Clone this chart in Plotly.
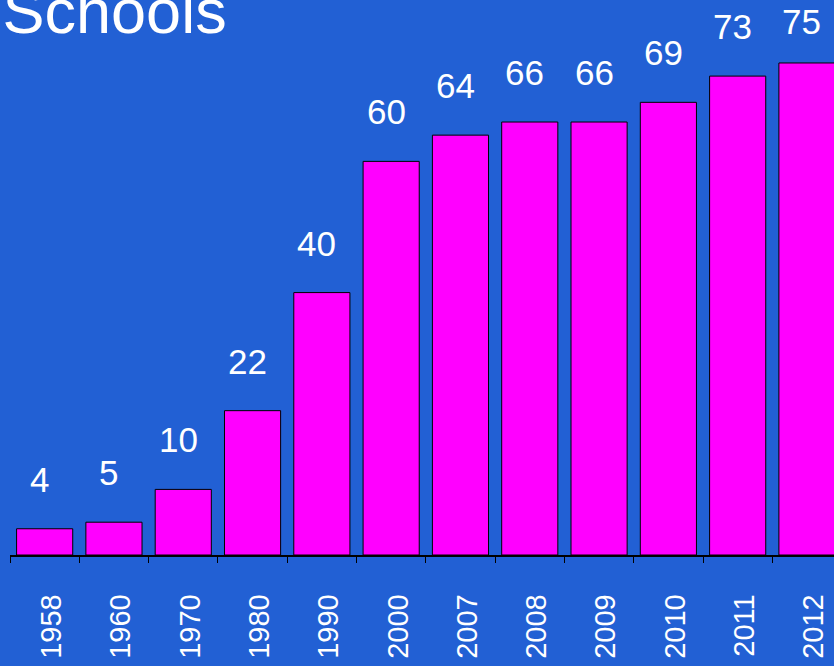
import plotly.graph_objects as go

years = ['1958', '1960', '1970', '1980', '1990', '2000', '2007', '2008', '2009', '2010', '2011', '2012']
schools = [4, 5, 10, 22, 40, 60, 64, 66, 66, 69, 73, 75]

bg = '#2260d4'
font = 'Arial, Liberation Sans, sans-serif'
ymax = 84.6
plot_h = 555

fig = go.Figure(go.Bar(
    x=years, y=schools,
    marker=dict(color='#ff00ff', line=dict(color='black', width=1)),
    width=0.81,
))

# value labels above the bars (x by category index, years look numeric)
# labels near the top are pushed down so they stay on the page
for i, v in enumerate(schools):
    bar_top = plot_h * (1 - v / ymax)
    shift = min(28, bar_top - 43)
    fig.add_annotation(x=i, y=v, text=str(v), showarrow=False,
                       yanchor='bottom', yshift=shift, xshift=-5,
                       font=dict(family=font, size=35, color='white'))

fig.update_layout(
    width=834, height=666,
    margin=dict(l=10, r=0, t=0, b=111),
    paper_bgcolor=bg, plot_bgcolor=bg,
    showlegend=False,
    title=dict(text='Schools', xref='container', yref='container',
               x=0.003, xanchor='left', y=0.983, yanchor='middle',
               font=dict(family=font, size=63, color='white')),
)
fig.update_xaxes(
    type='category', range=[-0.5, 11.39],
    showline=True, linecolor='black', linewidth=1.5,
    ticks='outside', tickson='boundaries', ticklen=6, tickcolor='black',
    tickangle=-90, tickfont=dict(family=font, size=29, color='white'),
    ticklabelstandoff=26, ticklabelshift=7,
    showgrid=False,
)
fig.update_yaxes(range=[0, ymax], visible=False, showgrid=False)

fig.write_html("out.html", config={'displayModeBar': False},
               post_script="document.body.style.margin='0';")
